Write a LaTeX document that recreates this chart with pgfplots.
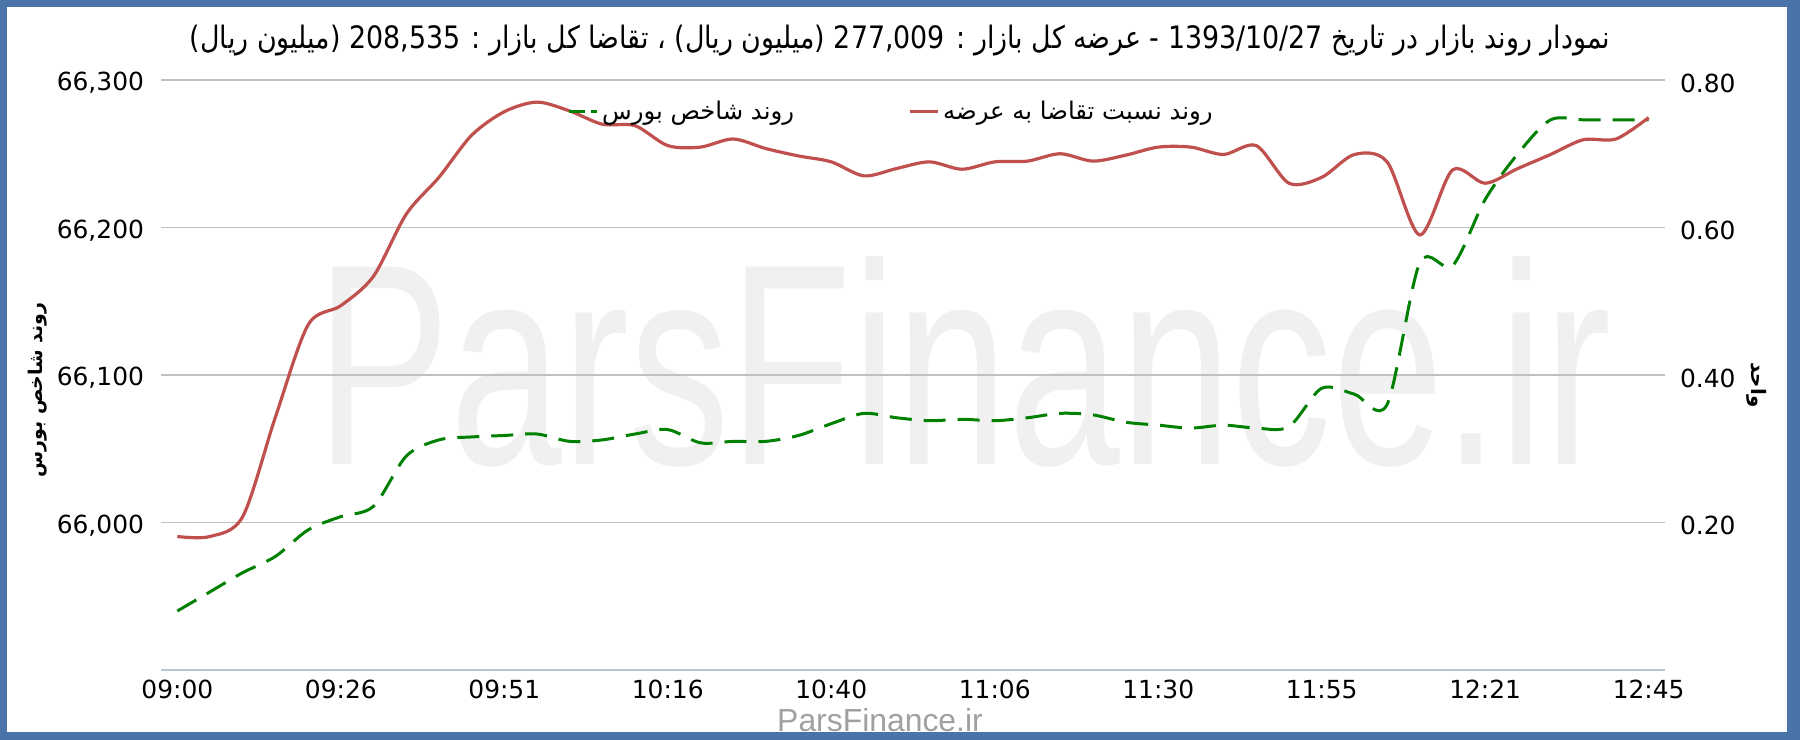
\documentclass[border=0pt]{standalone}
\usepackage{fontspec}
\usepackage{pgfplots}
\usepackage{pgfplotstable}
\pgfplotsset{compat=1.18}
\setmainfont{DejaVu Sans}
\TeXXeTstate=1
\newfontfamily\arabicfont[Script=Arabic]{DejaVu Sans}
\newfontfamily\titlefont[Script=Arabic,FakeStretch=0.87]{DejaVu Sans}
\newfontfamily\wmfont[FakeStretch=0.70]{Liberation Sans}
\newfontfamily\botfont{Liberation Sans}
\definecolor{frameblue}{HTML}{4A74A8}
\definecolor{redline}{HTML}{C0504D}
\definecolor{greenline}{HTML}{008000}
\definecolor{gridgray}{HTML}{C0C0C0}
\definecolor{xaxiscol}{HTML}{B9C5D9}
\definecolor{wmgray}{HTML}{F0F0F0}
\definecolor{botgray}{HTML}{A0A0A0}

\pgfplotstableread{
i v
0 65940
1 65953
2 65966
3 65977
4 65995
5 66004
6 66011
7 66045
8 66056
9 66058
10 66059
11 66060
12 66055
13 66056
14 66060
15 66063
16 66054
17 66055
18 66055
19 66059
20 66067
21 66074
22 66071
23 66069
24 66070
25 66069
26 66071
27 66074
28 66073
29 66068
30 66066
31 66064
32 66066
33 66064
34 66065
35 66091
36 66087
37 66080
38 66176
39 66174
40 66219
41 66250
42 66273
43 66273
44 66273
45 66273
}\indexdata

\pgfplotstableread{
i r
0 0.181
1 0.181
2 0.208
3 0.343
4 0.468
5 0.494
6 0.534
7 0.618
8 0.668
9 0.725
10 0.757
11 0.770
12 0.758
13 0.740
14 0.738
15 0.711
16 0.709
17 0.720
18 0.707
19 0.697
20 0.689
21 0.670
22 0.680
23 0.689
24 0.679
25 0.689
26 0.690
27 0.700
28 0.690
29 0.698
30 0.709
31 0.709
32 0.699
33 0.711
34 0.660
35 0.668
36 0.699
37 0.689
38 0.590
39 0.678
40 0.660
41 0.680
42 0.699
43 0.719
44 0.720
45 0.749
}\ratiodata

\begin{document}
\begin{tikzpicture}
% frame
\fill[frameblue] (0,0) rectangle (900bp,370bp);
\fill[white] (3.5bp,4bp) rectangle (893.5bp,366.5bp);
\useasboundingbox (0,0) rectangle (900bp,370bp);
% watermark
\node[anchor=base,text=wmgray,font=\wmfont\fontsize{144}{150}\selectfont,inner sep=0pt] at (482bp,137.5bp) {ParsFinance.ir};
% title
\node[font=\titlefont\fontsize{15.5}{18}\selectfont] at (450bp,349.5bp)
 {\beginR نمودار روند بازار در تاریخ \beginL1393/10/27\endL{} - عرضه کل بازار : \beginL277,009\endL{} (میلیون ریال) ، تقاضا کل بازار : \beginL208,535\endL{} (میلیون ریال)\endR};
% bottom text
\node[text=botgray,font=\botfont\fontsize{16}{18}\selectfont] at (440bp,10bp) {ParsFinance.ir};
% axis titles
\node[rotate=90,font=\arabicfont\bfseries\fontsize{9.5}{11}\selectfont] at (19bp,175bp) {\beginR روند شاخص بورس\endR};
\node[rotate=-90,font=\arabicfont\bfseries\fontsize{10}{12}\selectfont] at (878.5bp,177.5bp) {\beginR واحد\endR};

\begin{axis}[
  at={(80.5bp,35bp)}, anchor=south west,
  scale only axis, width=752bp, height=295bp,
  xmin=-0.5, xmax=45.5, ymin=65900, ymax=66300,
  axis x line*=bottom, axis y line*=left,
  y axis line style={draw=none},
  x axis line style={draw=xaxiscol, line width=1pt},
  xtick={0,5,...,45},
  xticklabels={09:00,09:26,09:51,10:16,10:40,11:06,11:30,11:55,12:21,12:45},
  major x tick style={draw=none},
  extra x ticks={-0.5,0.5,5.5,10.5,15.5,20.5,25.5,30.5,35.5,40.5,45.5},
  extra x tick labels={},
  extra x tick style={tick align=outside, major tick length=4bp, tick style={draw=xaxiscol, line width=1pt}},
  xticklabel style={font=\fontsize{12.5}{15}\selectfont, yshift=-1.5bp},
  scaled y ticks=false,
  ytick={66000,66100,66200,66300},
  ymajorgrids, grid style={gridgray, line width=0.9pt},
  major y tick style={draw=none},
  yticklabel style={font=\fontsize{12.5}{15}\selectfont, xshift=-5bp, yshift=-1.5bp,
    /pgf/number format/fixed, /pgf/number format/1000 sep={,}},
  /pgf/number format/assume math mode=true,
  clip=false,
]
\addplot[greenline, line width=1.5pt, dash pattern=on 11bp off 6bp, smooth, tension=0.5] table[x=i,y=v] {\indexdata};
\end{axis}

\begin{axis}[
  at={(80.5bp,35bp)}, anchor=south west,
  scale only axis, width=752bp, height=295bp,
  xmin=-0.5, xmax=45.5, ymin=0, ymax=0.8,
  axis x line=none, axis y line*=right,
  y axis line style={draw=none},
  scaled y ticks=false,
  ytick={0.2,0.4,0.6,0.8},
  major y tick style={draw=none},
  yticklabel style={font=\fontsize{12.5}{15}\selectfont, xshift=4bp, yshift=-1.5bp,
    /pgf/number format/fixed, /pgf/number format/fixed zerofill, /pgf/number format/precision=2},
  /pgf/number format/assume math mode=true,
  legend columns=2,
  legend style={draw=none, fill=none, at={(0.486,0.947)}, anchor=center,
    font=\arabicfont\fontsize{12.2}{14}\selectfont,
    /tikz/every even column/.append style={column sep=55bp}},
  legend image code/.code={\draw[#1] (0bp,0bp) -- (14bp,0bp);},
  clip=false,
]
\addlegendimage{greenline, line width=1.5pt, dash pattern=on 8bp off 3bp}
\addlegendentry{\beginR روند شاخص بورس\endR}
\addplot[redline, line width=1.6pt, smooth, tension=0.5] table[x=i,y=r] {\ratiodata};
\addlegendentry{\beginR روند نسبت تقاضا به عرضه\endR}
\end{axis}
\end{tikzpicture}
\end{document}
